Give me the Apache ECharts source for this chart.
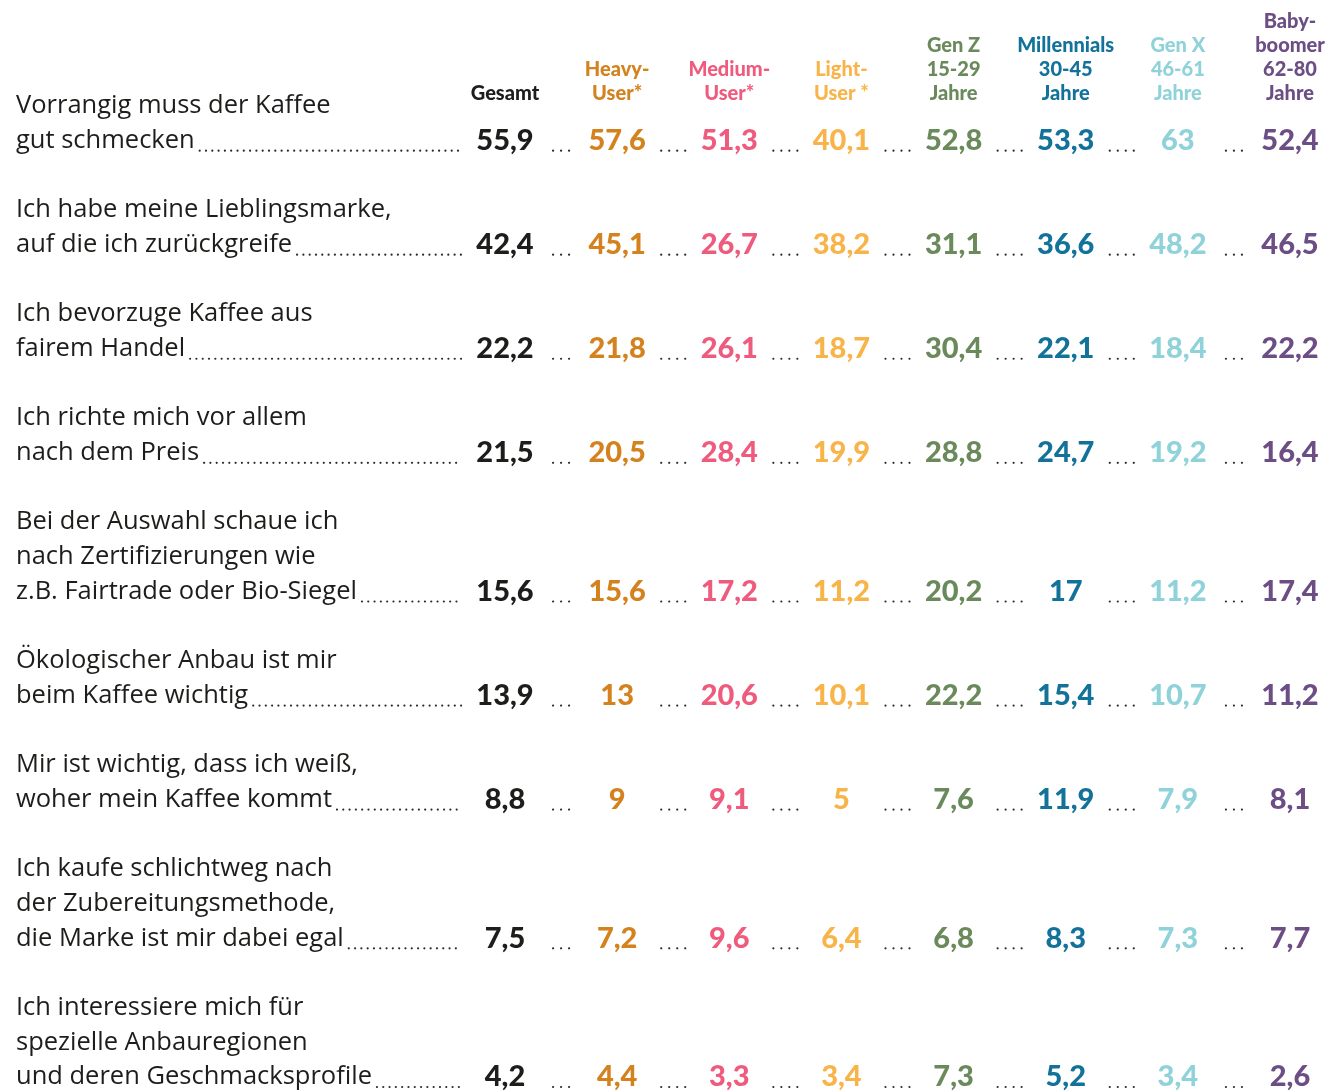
<!DOCTYPE html>
<html>
<head>
<meta charset="utf-8">
<title>Kaffee-Auswahl</title>
<script src="https://cdn.jsdelivr.net/npm/echarts@6/dist/echarts.min.js"></script>
<style>
html, body { margin: 0; padding: 0; background: #fff; }
#chart { width: 1329px; height: 1091px; }
</style>
</head>
<body>
<div id="chart"></div>
<script>
// Spalten (Kopfzeile)
var columns = ['Gesamt', 'Heavy-\nUser*', 'Medium-\nUser*', 'Light-\nUser *', 'Gen Z\n15-29\nJahre', 'Millennials\n30-45\nJahre', 'Gen X\n46-61\nJahre', 'Baby-\nboomer\n62-80\nJahre'];
var colors = ['#1d1d1b', '#d4821e', '#ef5b7d', '#f8b449', '#6b8a5b', '#12729a', '#8fd2da', '#6c4e85'];

// Aussagen
var statements = [
    'Vorrangig muss der Kaffee\ngut schmecken',
    'Ich habe meine Lieblingsmarke,\nauf die ich zurückgreife',
    'Ich bevorzuge Kaffee aus\nfairem Handel',
    'Ich richte mich vor allem\nnach dem Preis',
    'Bei der Auswahl schaue ich\nnach Zertifizierungen wie\nz.B. Fairtrade oder Bio-Siegel',
    'Ökologischer Anbau ist mir\nbeim Kaffee wichtig',
    'Mir ist wichtig, dass ich weiß,\nwoher mein Kaffee kommt',
    'Ich kaufe schlichtweg nach\nder Zubereitungsmethode,\ndie Marke ist mir dabei egal',
    'Ich interessiere mich für\nspezielle Anbauregionen\nund deren Geschmacksprofile'
];

// Werte in Prozent
var gesamt      = [55.9, 42.4, 22.2, 21.5, 15.6, 13.9, 8.8, 7.5, 4.2];
var heavy       = [57.6, 45.1, 21.8, 20.5, 15.6, 13, 9, 7.2, 4.4];
var medium      = [51.3, 26.7, 26.1, 28.4, 17.2, 20.6, 9.1, 9.6, 3.3];
var light       = [40.1, 38.2, 18.7, 19.9, 11.2, 10.1, 5, 6.4, 3.4];
var genZ        = [52.8, 31.1, 30.4, 28.8, 20.2, 22.2, 7.6, 6.8, 7.3];
var millennials = [53.3, 36.6, 22.1, 24.7, 17, 15.4, 11.9, 8.3, 5.2];
var genX        = [63, 48.2, 18.4, 19.2, 11.2, 10.7, 7.9, 7.3, 3.4];
var babyboomer  = [52.4, 46.5, 22.2, 16.4, 17.4, 11.2, 8.1, 7.7, 2.6];

var valueCols = [gesamt, heavy, medium, light, genZ, millennials, genX, babyboomer];

var textFont = '25.5px "Open Sans"';

// Zeilenposition (in Textzeilen) aus der Zeilenzahl der Aussagen
var rowLine = [];
var acc = 0;
statements.forEach(function (s) {
    var n = s.split('\n').length;
    rowLine.push(acc + n - 1);
    acc += n + 1;
});

var ctx = document.createElement('canvas').getContext('2d');
function textWidth(str, font) {
    ctx.font = font;
    return ctx.measureText(str).width;
}

function fmt(v) {
    return String(v).replace('.', ',');
}

// Punktreihe als einzelne Kreise
function dots(x1, x2, y, step) {
    var out = [];
    var n = Math.floor((x2 - x1) / step);
    for (var k = 0; k <= n; k++) {
        out.push({
            type: 'circle',
            shape: { cx: x1 + k * step, cy: y, r: 1.1 },
            style: { fill: '#2a2a2a' }
        });
    }
    return out;
}

var series = [];

// Aussagen mit Punktlinien
series.push({
    type: 'custom',
    data: statements.map(function (s, i) { return [0, rowLine[i], i]; }),
    renderItem: function (params, api) {
        var i = api.value(2);
        var lines = statements[i].split('\n');
        var unit = api.size([0, 1])[1];
        var pt = api.coord([0, api.value(1)]);
        var y = pt[1];
        var last = lines[lines.length - 1];
        var x1 = 16 + textWidth(last, textFont) + 5;
        var x2 = pt[0] - 43;
        var children = [{
            type: 'text',
            style: {
                text: statements[i],
                x: 16,
                y: y + unit / 2,
                font: textFont,
                fill: '#1d1d1b',
                lineHeight: unit,
                align: 'left',
                verticalAlign: 'bottom'
            }
        }];
        children = children.concat(dots(x1, x2, y + 10, 6.3));
        for (var c = 0; c < columns.length - 1; c++) {
            var a = api.coord([c, api.value(1)])[0];
            var b = api.coord([c + 1, api.value(1)])[0];
            var mid = (a + b) / 2;
            var n = (c === 0 || c === columns.length - 2) ? 3 : 4;
            var w = (n - 1) * 8;
            children = children.concat(dots(mid - w / 2, mid + w / 2 + 0.1, y + 10, 8));
        }
        return { type: 'group', children: children };
    },
    silent: true,
    z: 1
});

// Werte je Spalte
valueCols.forEach(function (vals, c) {
    series.push({
        name: columns[c],
        type: 'scatter',
        symbolSize: 0,
        itemStyle: { opacity: 1 },
        data: vals.map(function (v, i) { return [c, rowLine[i], v]; }),
        label: {
            show: true,
            position: 'inside',
            formatter: function (p) { return fmt(p.data[2]); },
            color: colors[c],
            opacity: 1,
            fontFamily: 'Lato',
            fontWeight: 900,
            fontSize: 29
        },
        silent: true,
        z: 3
    });
});

var chart = echarts.init(document.getElementById('chart'));
chart.setOption({
    backgroundColor: '#ffffff',
    animation: false,
    grid: { left: 505, right: 39, top: 106, bottom: 14 },
    xAxis: {
        type: 'category',
        position: 'top',
        boundaryGap: false,
        data: columns,
        axisLine: { show: false },
        axisTick: { show: false },
        splitLine: { show: false },
        axisLabel: {
            interval: 0,
            margin: 0,
            fontFamily: 'Lato',
            fontWeight: 900,
            fontSize: 20,
            lineHeight: 24,
            align: 'center',
            color: function (v, i) { return colors[i]; }
        }
    },
    yAxis: {
        type: 'value',
        inverse: true,
        min: 0,
        max: rowLine[rowLine.length - 1],
        show: false,
        splitLine: { show: false }
    },
    series: series
});
</script>
</body>
</html>
